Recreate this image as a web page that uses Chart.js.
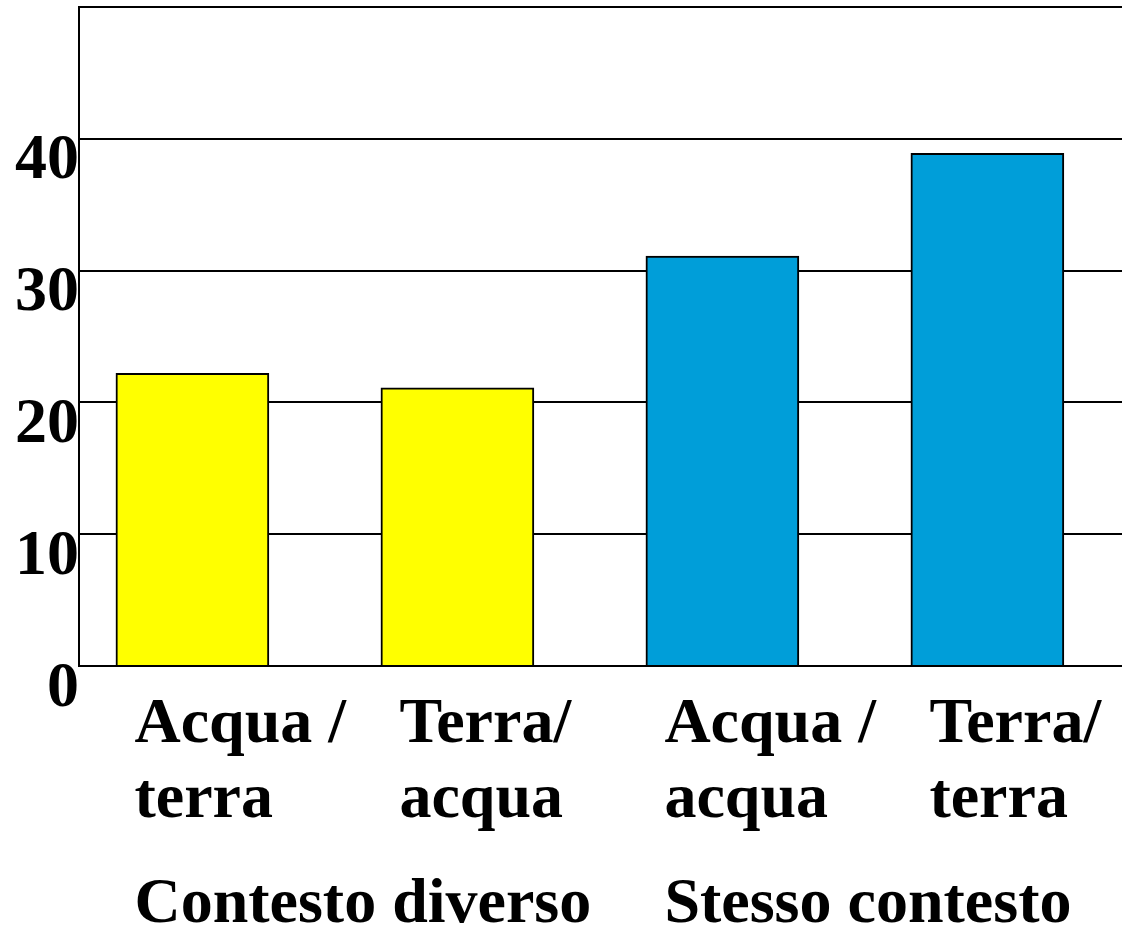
<!DOCTYPE html>
<html>
<head>
<meta charset="utf-8">
<script src="https://cdn.jsdelivr.net/npm/chart.js@4"></script>
<style>
  html, body { margin: 0; padding: 0; background: #fff; }
  canvas { display: block; }
</style>
</head>
<body>
<canvas id="chart" width="1122" height="928"></canvas>
<script>
var categories = [['Acqua /', 'terra'], ['Terra/', 'acqua'], ['Acqua /', 'acqua'], ['Terra/', 'terra']];
var groupOf = ['Contesto diverso', 'Contesto diverso', 'Stesso contesto', 'Stesso contesto'];
var values = [22.2, 21.1, 31.1, 38.9];
var yTickLabels = [0, 10, 20, 30, 40];
var yMax = 50;

var groupColors = { 'Contesto diverso': '#ffff00', 'Stesso contesto': '#009ed9' };
var font = { family: "'Liberation Serif', 'Times New Roman', serif", size: 64, weight: 'bold', lineHeight: 1.17 };

// first category of every group, where its label goes
var groupStarts = [];
groupOf.forEach(function (g, i) {
    if (i === 0 || groupOf[i - 1] !== g) groupStarts.push(i);
});

function noPadding(axis) {
    axis.paddingTop = 0;
    axis.paddingBottom = 0;
    axis.paddingLeft = 0;
    axis.paddingRight = 0;
}

var ctx = document.getElementById('chart');
var chart = new Chart(ctx, {
    type: 'bar',
    data: {
        datasets: [{
            data: values.map(function (v, i) { return { x: i, y: v }; }),
            backgroundColor: groupOf.map(function (g) { return groupColors[g]; }),
            borderColor: '#000',
            borderWidth: 2,
            barThickness: 153
        }]
    },
    options: {
        responsive: false,
        animation: false,
        devicePixelRatio: 1,
        layout: { padding: { top: 7, right: 0, bottom: 0, left: 0 } },
        plugins: {
            legend: { display: false },
            tooltip: { enabled: false }
        },
        scales: {
            x: {
                type: 'linear',
                position: 'bottom',
                offset: false,
                min: -0.428,
                max: 3.508,
                afterBuildTicks: function (axis) {
                    axis.ticks = categories.map(function (c, i) { return { value: i }; });
                },
                ticks: {
                    autoSkip: false,
                    maxRotation: 0,
                    minRotation: 0,
                    align: 'start',
                    labelOffset: -58,
                    padding: 14,
                    color: '#000',
                    font: font,
                    callback: function (v) { return categories[v]; }
                },
                grid: { display: false, offset: false },
                border: { display: true, color: '#000', width: 2 },
                afterFit: function (axis) { axis.height = 175; noPadding(axis); }
            },
            x2: {
                type: 'linear',
                position: 'bottom',
                offset: false,
                min: -0.428,
                max: 3.508,
                afterBuildTicks: function (axis) {
                    axis.ticks = groupStarts.map(function (i) { return { value: i }; });
                },
                ticks: {
                    autoSkip: false,
                    maxRotation: 0,
                    minRotation: 0,
                    align: 'start',
                    labelOffset: -58,
                    padding: 19,
                    color: '#000',
                    font: font,
                    callback: function (v) { return groupOf[v]; }
                },
                grid: { display: false, offset: false },
                border: { display: false },
                afterFit: function (axis) { axis.height = 87; noPadding(axis); }
            },
            y: {
                min: 0,
                max: yMax,
                afterBuildTicks: function (axis) {
                    axis.ticks = yTickLabels.concat([yMax]).map(function (v) { return { value: v }; });
                },
                ticks: {
                    padding: 0,
                    labelOffset: 23,
                    color: '#000',
                    font: font,
                    callback: function (v) { return yTickLabels.indexOf(v) >= 0 ? v : ''; }
                },
                grid: { color: '#000', lineWidth: 2, drawTicks: false },
                border: { display: true, color: '#000', width: 2 },
                afterFit: function (axis) { axis.width = 79; noPadding(axis); }
            }
        }
    }
});
</script>
</body>
</html>
